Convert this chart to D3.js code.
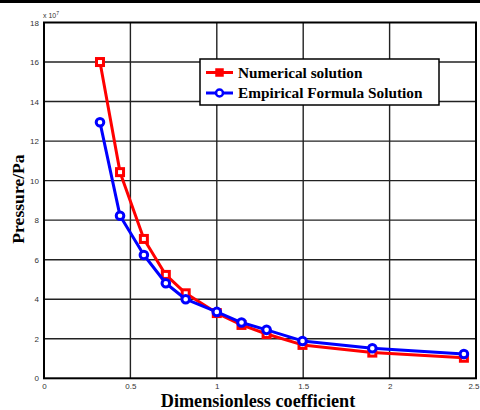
<!DOCTYPE html>
<html><head><meta charset="utf-8">
<script src="https://cdn.jsdelivr.net/npm/d3@7"></script>
<style>body{margin:0;background:#fff}svg{display:block}</style>
</head><body>
<script>
const xValues = [0.324, 0.44, 0.578, 0.705, 0.82, 1.0, 1.143, 1.288, 1.496, 1.90, 2.43];
const numerical = [16.0, 10.43, 7.05, 5.23, 4.3, 3.3, 2.70, 2.24, 1.69, 1.30, 1.04];
const empirical = [12.95, 8.22, 6.24, 4.81, 4.0, 3.36, 2.82, 2.45, 1.89, 1.52, 1.23];
const xTicks = [0, 0.5, 1, 1.5, 2, 2.5];
const xTickLabels = ["0", "0.5", "1", "1.5", "2", "2.5"];
const yTicks = [0, 2, 4, 6, 8, 10, 12, 14, 16, 18];
const seriesNames = ["Numerical solution", "Empirical Formula Solution"];

const W = 480, H = 410;
const svg = d3.select("body").append("svg").attr("width", W).attr("height", H);
svg.append("rect").attr("width", W).attr("height", H).attr("fill", "#fff");
svg.append("rect").attr("x", 0).attr("y", 0).attr("width", W).attr("height", 3).attr("fill", "#000");

const L = 44, R = 476, T = 22.5, B = 378.3;
const x = d3.scaleLinear().domain([0, 2.5]).range([L, R]);
const y = d3.scaleLinear().domain([0, 18]).range([B, T]);

// grid
const g = svg.append("g");
g.selectAll(".gx").data(xTicks.slice(1, -1)).enter().append("line")
  .attr("x1", d => x(d)).attr("x2", d => x(d)).attr("y1", T).attr("y2", B)
  .attr("stroke", "#222").attr("stroke-width", 1.4);
g.selectAll(".gy").data(yTicks.slice(1, -1)).enter().append("line")
  .attr("y1", d => y(d)).attr("y2", d => y(d)).attr("x1", L).attr("x2", R)
  .attr("stroke", "#222").attr("stroke-width", 1.4);

// frame
svg.append("rect").attr("x", L).attr("y", T).attr("width", R - L).attr("height", B - T)
  .attr("fill", "none").attr("stroke", "#000").attr("stroke-width", 2);

// axes tick labels
const xa = d3.axisBottom(x).tickValues(xTicks).tickSize(0).tickPadding(5)
  .tickFormat((d, i) => xTickLabels[i]);
const xg = svg.append("g").attr("transform", `translate(0,${B})`).call(xa);
xg.select(".domain").remove();
xg.selectAll("text").attr("font-family", "Liberation Sans, Arial, sans-serif").attr("font-size", 8).attr("fill", "#333");
xg.selectAll(".tick").filter(d => Math.abs(d - 2.5) < 1e-9).select("text")
  .attr("text-anchor", "end").attr("dx", 3);

const ya = d3.axisLeft(y).tickValues(yTicks).tickSize(0).tickPadding(5);
const yg = svg.append("g").attr("transform", `translate(${L},0)`).call(ya);
yg.select(".domain").remove();
yg.selectAll("text").attr("font-family", "Liberation Sans, Arial, sans-serif").attr("font-size", 8).attr("fill", "#333");

// exponent
const ex = svg.append("text").attr("x", 43).attr("y", 17.5)
  .attr("font-family", "Liberation Sans, Arial, sans-serif").attr("font-size", 7).attr("fill", "#333");
ex.append("tspan").text("x 10");
ex.append("tspan").attr("dy", -3).attr("font-size", 5).text("7");

// axis titles
svg.append("text").attr("x", 258).attr("y", 407)
  .attr("text-anchor", "middle").attr("font-family", "Liberation Serif, Times New Roman, serif")
  .attr("font-weight", "bold").attr("font-size", 18.2).attr("fill", "#000").text("Dimensionless coefficient");
svg.append("text").attr("transform", "translate(24,199) rotate(-90)")
  .attr("text-anchor", "middle").attr("font-family", "Liberation Serif, Times New Roman, serif")
  .attr("font-weight", "bold").attr("font-size", 17.6).attr("fill", "#000").text("Pressure/Pa");

// lines
const line = d3.line().x(d => x(d[0])).y(d => y(d[1]));
const redData = xValues.map((v, i) => [v, numerical[i]]);
const blueData = xValues.map((v, i) => [v, empirical[i]]);

svg.append("path").datum(redData).attr("d", line).attr("fill", "none")
  .attr("stroke", "#ff0000").attr("stroke-width", 3).attr("stroke-linejoin", "round");
svg.selectAll(".sq").data(redData).enter().append("rect")
  .attr("x", d => x(d[0]) - 3.5).attr("y", d => y(d[1]) - 3.5).attr("width", 7).attr("height", 7)
  .attr("fill", "#fff").attr("stroke", "#ff0000").attr("stroke-width", 3);

svg.append("path").datum(blueData).attr("d", line).attr("fill", "none")
  .attr("stroke", "#0000ff").attr("stroke-width", 3).attr("stroke-linejoin", "round");
svg.selectAll(".ci").data(blueData).enter().append("circle")
  .attr("cx", d => x(d[0])).attr("cy", d => y(d[1])).attr("r", 3.8)
  .attr("fill", "#fff").attr("stroke", "#0000ff").attr("stroke-width", 3);

// legend
const lg = svg.append("g");
lg.append("rect").attr("x", 200).attr("y", 59).attr("width", 239).attr("height", 46)
  .attr("fill", "#fff").attr("stroke", "#000").attr("stroke-width", 1.5);
const colors = ["#ff0000", "#0000ff"];
seriesNames.forEach((name, i) => {
  const yy = 72.5 + i * 20.5;
  lg.append("line").attr("x1", 206).attr("x2", 233).attr("y1", yy).attr("y2", yy)
    .attr("stroke", colors[i]).attr("stroke-width", 3);
  if (i === 0) {
    lg.append("rect").attr("x", 219.5 - 3.5).attr("y", yy - 3.5).attr("width", 7).attr("height", 7)
      .attr("fill", colors[i]).attr("stroke", colors[i]).attr("stroke-width", 1.5);
  } else {
    lg.append("circle").attr("cx", 219.5).attr("cy", yy).attr("r", 3.5)
      .attr("fill", "#fff").attr("stroke", colors[i]).attr("stroke-width", 2.5);
  }
  lg.append("text").attr("x", 238).attr("y", yy + 5)
    .attr("font-family", "Liberation Serif, Times New Roman, serif").attr("font-weight", "bold")
    .attr("font-size", 15.3).attr("fill", "#000").text(name);
});
</script>
</body></html>
